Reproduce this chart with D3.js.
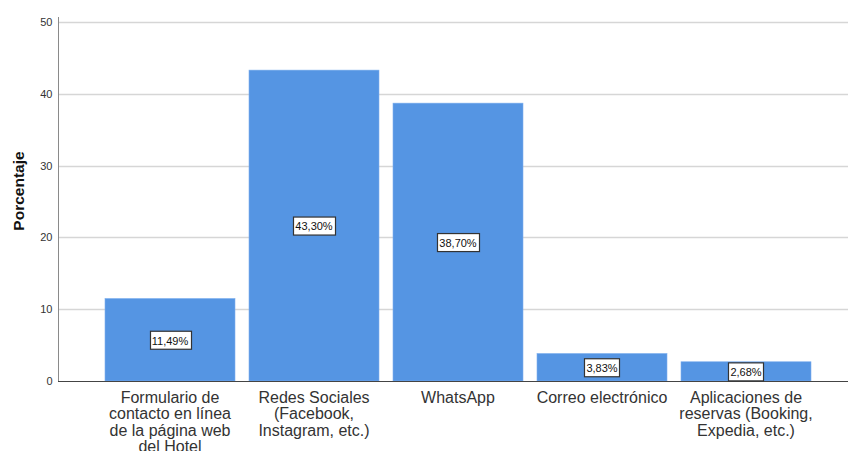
<!DOCTYPE html>
<html>
<head>
<meta charset="utf-8">
<script src="https://cdn.jsdelivr.net/npm/d3@7"></script>
<style>
  html, body { margin: 0; padding: 0; background: #fff; }
  svg { display: block; font-family: "Liberation Sans", Arial, sans-serif; }
</style>
</head>
<body>
<svg id="chart" width="848" height="451"></svg>
<script>
// Canales de contacto preferidos (porcentaje de respuestas)
const categories = [
  ["Formulario de", "contacto en línea", "de la página web", "del Hotel"],
  ["Redes Sociales", "(Facebook,", "Instagram, etc.)"],
  ["WhatsApp"],
  ["Correo electrónico"],
  ["Aplicaciones de", "reservas (Booking,", "Expedia, etc.)"]
];
const values = [11.49, 43.30, 38.70, 3.83, 2.68];
const valueLabels = ["11,49%", "43,30%", "38,70%", "3,83%", "2,68%"];
const yTicks = [0, 10, 20, 30, 40, 50];
const yTitle = "Porcentaje";

const svg = d3.select("#chart");
const plotLeft = 58, plotRight = 848, plotTop = 22, plotBottom = 381;

const x = d3.scaleBand()
  .domain(d3.range(values.length))
  .range([98, 818])
  .paddingInner(14 / 144)
  .paddingOuter(7 / 144);

const y = d3.scaleLinear().domain([0, 50]).range([plotBottom, plotTop]);

// gridlines
svg.append("g")
  .selectAll("line")
  .data(yTicks.filter(d => d > 0))
  .join("line")
  .attr("x1", plotLeft).attr("x2", plotRight)
  .attr("y1", d => Math.round(y(d)) + 0.5).attr("y2", d => Math.round(y(d)) + 0.5)
  .attr("stroke", "#d6d6d6").attr("stroke-width", 1.5);

// y axis
const yAxis = svg.append("g")
  .attr("transform", `translate(${plotLeft + 0.5},0)`)
  .call(d3.axisLeft(y).tickValues(yTicks).tickSize(0).tickPadding(6));
yAxis.select(".domain").attr("stroke", "#8a8a8a").attr("d", `M0,${plotTop - 5}V${plotBottom}`);
yAxis.selectAll("text")
  .attr("font-size", 11)
  .attr("fill", "#333")
  .attr("font-family", "Liberation Sans, Arial, sans-serif");

// bars
svg.append("g")
  .selectAll("rect")
  .data(values)
  .join("rect")
  .attr("x", (d, i) => x(i))
  .attr("y", d => y(d))
  .attr("width", x.bandwidth())
  .attr("height", d => y(0) - y(d))
  .attr("fill", "#5595e3")
  .attr("stroke", "#7fb0ee")
  .attr("stroke-width", 0.6);

// baseline
svg.append("line")
  .attr("x1", plotLeft).attr("x2", plotRight)
  .attr("y1", plotBottom + 0.5).attr("y2", plotBottom + 0.5)
  .attr("stroke", "#444").attr("stroke-width", 1);

// value labels in boxes at mid height
const lab = svg.append("g")
  .selectAll("g")
  .data(values)
  .join("g")
  .attr("transform", (d, i) => `translate(${x(i) + x.bandwidth() / 2},${(y(d) + y(0)) / 2 + 1})`);
lab.append("text")
  .text((d, i) => valueLabels[i])
  .attr("text-anchor", "middle")
  .attr("dy", "0.35em")
  .attr("font-size", 11)
  .attr("fill", "#111");
lab.each(function () {
  const g = d3.select(this);
  const bb = g.select("text").node().getBBox();
  g.insert("rect", "text")
    .attr("x", Math.round(bb.x - 2) + 0.5)
    .attr("y", -9.5)
    .attr("width", Math.round(bb.width + 4))
    .attr("height", 18)
    .attr("fill", "#fff")
    .attr("stroke", "#333")
    .attr("stroke-width", 1.2);
});

// category labels
const cat = svg.append("g")
  .selectAll("text")
  .data(categories)
  .join("text")
  .attr("text-anchor", "middle")
  .attr("font-size", 16)
  .attr("fill", "#333")
  .attr("transform", (d, i) => `translate(${x(i) + x.bandwidth() / 2},403)`);
cat.selectAll("tspan")
  .data(d => d)
  .join("tspan")
  .attr("x", 0)
  .attr("y", (d, j) => j * 16.3)
  .text(d => d);

// y title
svg.append("text")
  .attr("transform", "translate(24,191) rotate(-90)")
  .attr("text-anchor", "middle")
  .attr("font-size", 15.5)
  .attr("font-weight", "bold")
  .attr("fill", "#111")
  .text(yTitle);
</script>
</body>
</html>
